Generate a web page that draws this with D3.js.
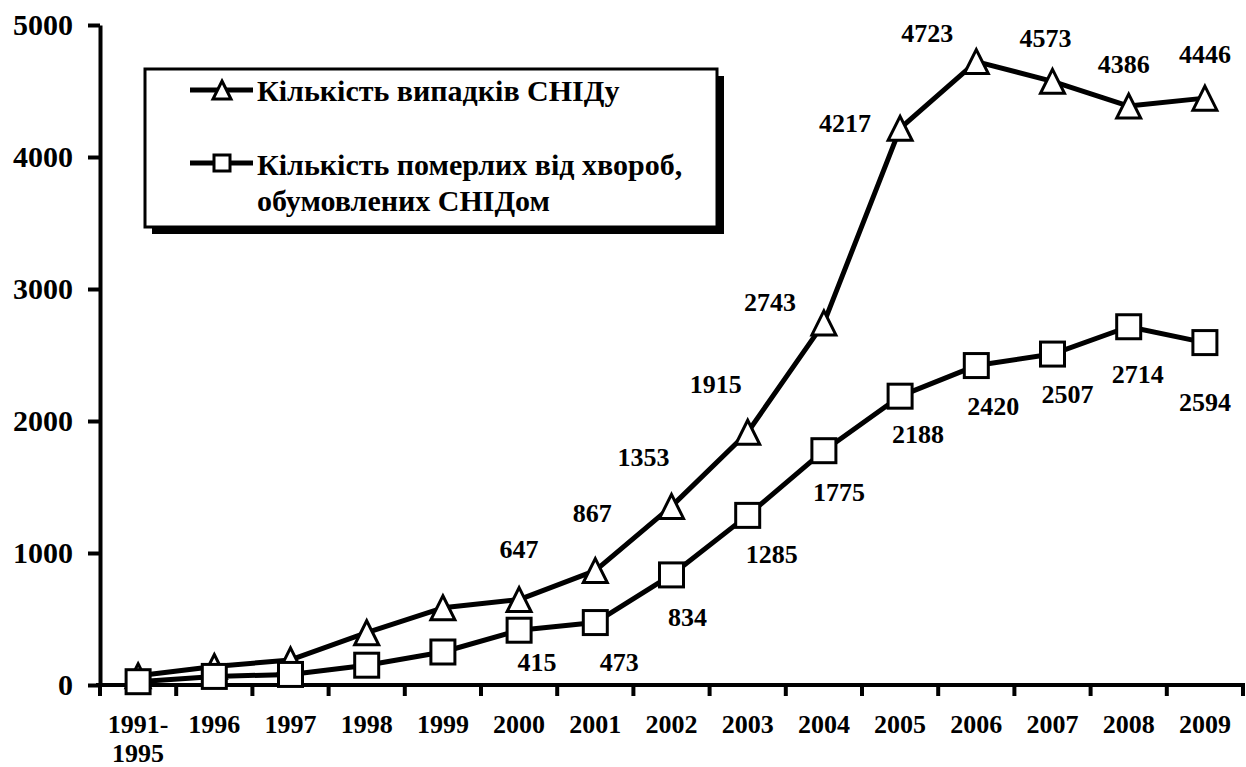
<!DOCTYPE html>
<html>
<head>
<meta charset="utf-8">
<script src="https://d3js.org/d3.v7.min.js"></script>
<style>
  body { margin: 0; background: #fff; }
  text { font-family: "Liberation Serif", "Times New Roman", serif; font-weight: bold; fill: #000; }
</style>
</head>
<body>
<div id="chart"></div>
<script>
// categories and series values
var years = ["1991-1995", "1996", "1997", "1998", "1999", "2000", "2001", "2002", "2003", "2004", "2005", "2006", "2007", "2008", "2009"];
var aidsCases = [70, 140, 190, 396, 585, 647, 867, 1353, 1915, 2743, 4217, 4723, 4573, 4386, 4446];
var aidsDeaths = [25, 65, 80, 150, 250, 415, 473, 834, 1285, 1775, 2188, 2420, 2507, 2714, 2594];
// which values carry a printed label (small early years have none)
var casesLabeled = [false, false, false, false, false, true, true, true, true, true, true, true, true, true, true];
var deathsLabeled = [false, false, false, false, false, true, true, true, true, true, true, true, true, true, true];
var yTicks = [0, 1000, 2000, 3000, 4000, 5000];
var seriesNames = ["Кількість випадків СНІДу", "Кількість померлих від хвороб,", "обумовлених СНІДом"];

// label offsets (layout only)
var casesLabelDx = [0, 0, 0, 0, 0, 0, -3, -28, -32, -54, -55, -49, -7, -5, 0];
var casesLabelDy = [0, 0, 0, 0, 0, -51, -58, -50, -48, -21, -5, -29, -43, -42, -44];
var deathsLabelDx = [0, 0, 0, 0, 0, 18, 24, 16, 24, 15, 18, 17, 15, 9, 0];
var deathsLabelDy = [0, 0, 0, 0, 0, 32, 39, 42, 39, 41, 38, 40, 40, 47, 59];

var W = 1246, H = 767;
var plotLeft = 100, plotRight = 1243, plotTop = 25, plotBottom = 685;

var svg = d3.select("#chart").append("svg")
    .attr("width", W)
    .attr("height", H);

var x = d3.scaleBand().domain(years).range([plotLeft, plotRight]);
var y = d3.scaleLinear().domain([0, 5000]).range([plotBottom, plotTop]);

var cx = function(i){ return x(years[i]) + x.bandwidth()/2; };

// y axis
var yAxis = svg.append("g")
    .attr("transform", "translate(" + plotLeft + ",0)")
    .call(d3.axisLeft(y).tickValues(yTicks).tickSize(12).tickSizeOuter(0).tickPadding(15).tickFormat(d3.format("d")));
yAxis.select(".domain").attr("stroke", "#000").attr("stroke-width", 4);
yAxis.selectAll(".tick line").attr("stroke", "#000").attr("stroke-width", 4);
yAxis.selectAll(".tick text")
    .style("font-family", "'Liberation Serif', 'Times New Roman', serif")
    .style("font-weight", "bold")
    .style("font-size", "30px")
    .attr("fill", "#000");

// x axis (ticks on category boundaries)
var xg = svg.append("g");
xg.append("line")
    .attr("x1", plotLeft - 4).attr("x2", plotRight + 2)
    .attr("y1", plotBottom).attr("y2", plotBottom)
    .attr("stroke", "#000").attr("stroke-width", 4);
var bounds = years.map(function(d){ return x(d); }).concat([plotRight]);
xg.selectAll(".xtick").data(bounds).enter().append("line")
    .attr("class", "xtick")
    .attr("x1", function(d){ return d; }).attr("x2", function(d){ return d; })
    .attr("y1", plotBottom).attr("y2", plotBottom + 11)
    .attr("stroke", "#000").attr("stroke-width", 4);
var xl = xg.selectAll(".xlabel").data(years).enter().append("text")
    .attr("class", "xlabel")
    .attr("text-anchor", "middle")
    .attr("x", function(d){ return x(d) + x.bandwidth()/2; })
    .attr("y", 733)
    .style("font-size", "26px");
xl.each(function(d){
    var parts = d.split("-");
    var t = d3.select(this);
    if(parts.length > 1){
        t.append("tspan").attr("x", t.attr("x")).text(parts[0] + "-");
        t.append("tspan").attr("x", t.attr("x")).attr("dy", 29).text(parts[1]);
    }else{
        t.text(d);
    }
});

var line = d3.line()
    .x(function(d, i){ return cx(i); })
    .y(function(d){ return y(d); });

// lines
svg.append("path").datum(aidsCases)
    .attr("d", line).attr("fill", "none").attr("stroke", "#000").attr("stroke-width", 5).attr("stroke-linejoin", "round");
svg.append("path").datum(aidsDeaths)
    .attr("d", line).attr("fill", "none").attr("stroke", "#000").attr("stroke-width", 5).attr("stroke-linejoin", "round");

function triPath(px, py, s){
    return "M" + px + "," + (py - s) + "L" + (px + s) + "," + (py + s) + "L" + (px - s) + "," + (py + s) + "Z";
}

// markers
svg.selectAll(".tri").data(aidsCases).enter().append("path")
    .attr("class", "tri")
    .attr("d", function(d, i){ return triPath(cx(i), y(d), 12); })
    .attr("fill", "#fff").attr("stroke", "#000").attr("stroke-width", 3).attr("stroke-linejoin", "miter");
svg.selectAll(".sq").data(aidsDeaths).enter().append("rect")
    .attr("class", "sq")
    .attr("x", function(d, i){ return cx(i) - 12; })
    .attr("y", function(d){ return y(d) - 12; })
    .attr("width", 24).attr("height", 24)
    .attr("fill", "#fff").attr("stroke", "#000").attr("stroke-width", 3);

// value labels
var idx = d3.range(years.length);
svg.selectAll(".lblC").data(idx.filter(function(i){ return casesLabeled[i]; })).enter()
    .append("text")
    .attr("class", "lblC")
    .attr("text-anchor", "middle")
    .attr("x", function(i){ return cx(i) + casesLabelDx[i]; })
    .attr("y", function(i){ return y(aidsCases[i]) + casesLabelDy[i]; })
    .attr("dy", "0.35em")
    .style("font-size", "26px")
    .text(function(i){ return aidsCases[i]; });
svg.selectAll(".lblD").data(idx.filter(function(i){ return deathsLabeled[i]; })).enter()
    .append("text")
    .attr("class", "lblD")
    .attr("text-anchor", "middle")
    .attr("x", function(i){ return cx(i) + deathsLabelDx[i]; })
    .attr("y", function(i){ return y(aidsDeaths[i]) + deathsLabelDy[i]; })
    .attr("dy", "0.35em")
    .style("font-size", "26px")
    .text(function(i){ return aidsDeaths[i]; });

// legend
var lg = svg.append("g");
lg.append("rect")
    .attr("x", 152).attr("y", 76).attr("width", 572).attr("height", 158)
    .attr("fill", "#000");
lg.append("rect")
    .attr("x", 145).attr("y", 69).attr("width", 572).attr("height", 158)
    .attr("fill", "#fff").attr("stroke", "#000").attr("stroke-width", 3);

lg.append("line").attr("x1", 190).attr("x2", 253).attr("y1", 90).attr("y2", 90)
    .attr("stroke", "#000").attr("stroke-width", 5);
lg.append("path").attr("d", triPath(222, 90, 9))
    .attr("fill", "#fff").attr("stroke", "#000").attr("stroke-width", 3);
lg.append("line").attr("x1", 190).attr("x2", 253).attr("y1", 163).attr("y2", 163)
    .attr("stroke", "#000").attr("stroke-width", 5);
lg.append("rect").attr("x", 214).attr("y", 155).attr("width", 16).attr("height", 16)
    .attr("fill", "#fff").attr("stroke", "#000").attr("stroke-width", 3);

lg.append("text").attr("x", 257).attr("y", 90).attr("dy", "0.35em").style("font-size", "30px").text(seriesNames[0]);
lg.append("text").attr("x", 257).attr("y", 164).attr("dy", "0.35em").style("font-size", "30px").text(seriesNames[1]);
lg.append("text").attr("x", 257).attr("y", 200).attr("dy", "0.35em").style("font-size", "30px").text(seriesNames[2]);
</script>
</body>
</html>
